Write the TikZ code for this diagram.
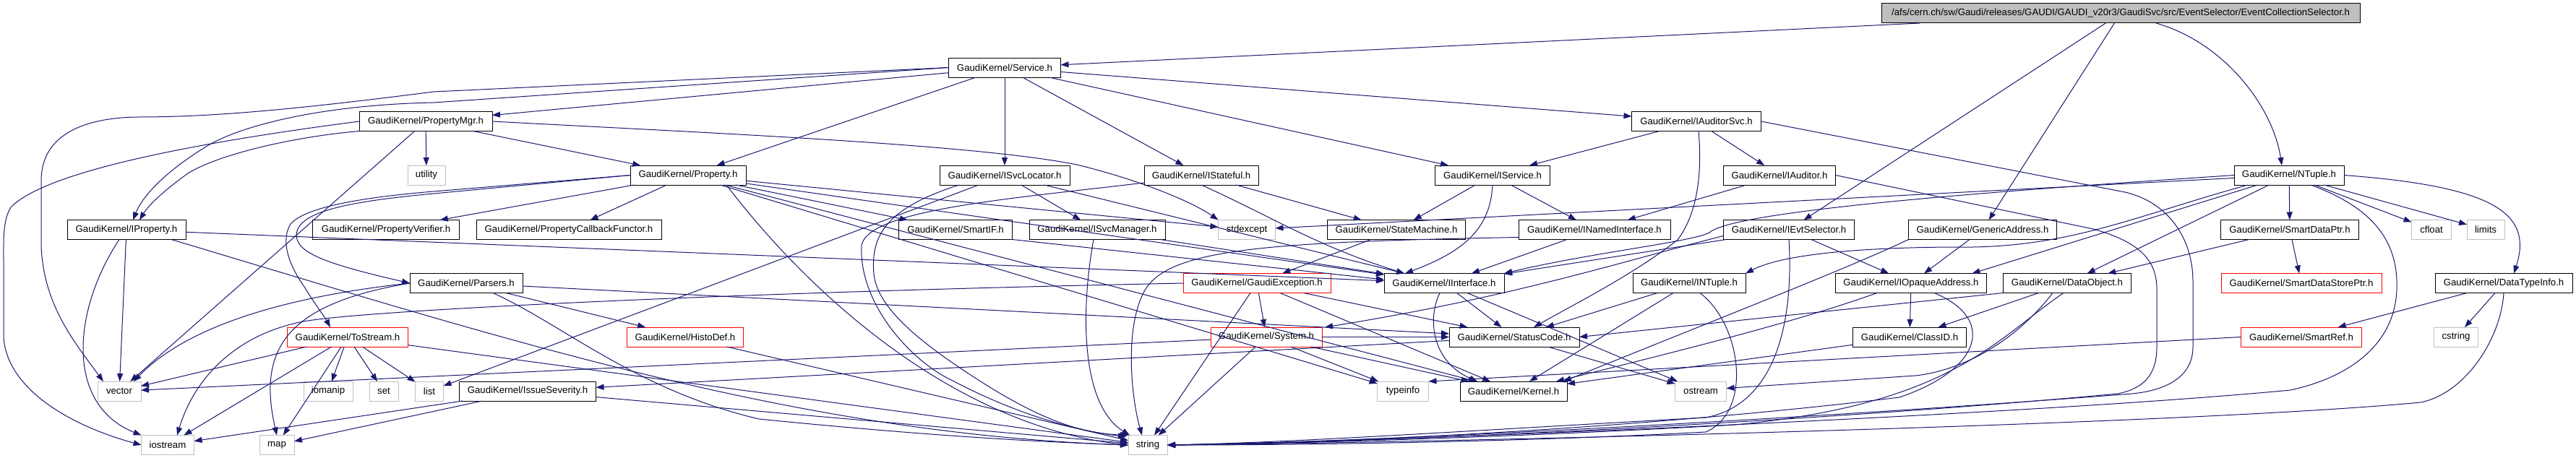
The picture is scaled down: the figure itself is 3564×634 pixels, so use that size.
\documentclass[tikz,border=0pt]{standalone}
\usepackage{fontspec}
\setmainfont{Liberation Sans}
\usetikzlibrary{arrows.meta,calc}
\definecolor{edgecol}{HTML}{191970}
\definecolor{sysgrey}{HTML}{BFBFBF}
\tikzset{
  hdr/.style={rectangle, draw=black, line width=1pt, minimum height=27pt, inner sep=0pt, outer sep=0pt, font=\fontsize{13.2}{15}\selectfont, text=black},
  syshdr/.style={hdr, draw=sysgrey},
  trunc/.style={hdr, draw=red},
  rootbox/.style={hdr, fill=sysgrey},
  dep/.style={draw=edgecol, line width=1pt, -{Triangle[length=11pt,width=8pt]}},
}
\begin{document}
\begin{tikzpicture}[x=1pt,y=-1pt]
\useasboundingbox (0,0) rectangle (3564,634);
\fill[white] (0,0) rectangle (3564,634);
% row 0
\node[rootbox, minimum width=662pt] (root) at (2934,18.5) {/afs/cern.ch/sw/Gaudi/releases/GAUDI/GAUDI\_v20r3/GaudiSvc/src/EventSelector/EventCollectionSelector.h};
% row 1
\node[hdr, minimum width=155pt] (service) at (1390,93.5) {GaudiKernel/Service.h};
% row 2
\node[hdr, minimum width=184pt] (propmgr) at (589,168) {GaudiKernel/PropertyMgr.h};
\node[hdr, minimum width=179pt] (iauditorsvc) at (2347,168) {GaudiKernel/IAuditorSvc.h};
% row 3
\node[syshdr, minimum width=52pt] (utility) at (590,242.5) {utility};
\node[hdr, minimum width=160pt] (property) at (952,242.5) {GaudiKernel/Property.h};
\node[hdr, minimum width=180pt] (isvclocator) at (1390,242.5) {GaudiKernel/ISvcLocator.h};
\node[hdr, minimum width=158pt] (istateful) at (1662,242.5) {GaudiKernel/IStateful.h};
\node[hdr, minimum width=159pt] (iservice) at (2065,242.5) {GaudiKernel/IService.h};
\node[hdr, minimum width=155pt] (iauditor) at (2462,242.5) {GaudiKernel/IAuditor.h};
\node[hdr, minimum width=152pt] (ntuple) at (3167,242.5) {GaudiKernel/NTuple.h};
% row 4
\node[hdr, minimum width=164pt] (iproperty) at (175,318) {GaudiKernel/IProperty.h};
\node[hdr, minimum width=203pt] (propverifier) at (534,318) {GaudiKernel/PropertyVerifier.h};
\node[hdr, minimum width=256pt] (propcallback) at (787,318) {GaudiKernel/PropertyCallbackFunctor.h};
\node[hdr, minimum width=157pt] (smartif) at (1322,318) {GaudiKernel/SmartIF.h};
\node[hdr, minimum width=188pt] (isvcmanager) at (1518,318) {GaudiKernel/ISvcManager.h};
\node[syshdr, minimum width=79pt] (stdexcept) at (1725,318) {stdexcept};
\node[hdr, minimum width=191pt] (statemachine) at (1932,318) {GaudiKernel/StateMachine.h};
\node[hdr, minimum width=210pt] (inamedif) at (2206,318) {GaudiKernel/INamedInterface.h};
\node[hdr, minimum width=181pt] (ievtsel) at (2475,318) {GaudiKernel/IEvtSelector.h};
\node[hdr, minimum width=205pt] (genaddr) at (2743,318) {GaudiKernel/GenericAddress.h};
\node[hdr, minimum width=191pt] (smartdataptr) at (3168,318) {GaudiKernel/SmartDataPtr.h};
\node[syshdr, minimum width=55pt] (cfloat) at (3364,318) {cfloat};
\node[syshdr, minimum width=52pt] (limits) at (3439,318) {limits};
% row 5
\node[hdr, minimum width=156pt] (parsers) at (645,392) {GaudiKernel/Parsers.h};
\node[trunc, minimum width=204pt] (gaudiexc) at (1739,392) {GaudiKernel/GaudiException.h};
\node[hdr, minimum width=166pt] (iinterface) at (1998,392) {GaudiKernel/IInterface.h};
\node[hdr, minimum width=156pt] (intuple) at (2337,392) {GaudiKernel/INTuple.h};
\node[hdr, minimum width=209pt] (iopaque) at (2644,392) {GaudiKernel/IOpaqueAddress.h};
\node[hdr, minimum width=177pt] (dataobject) at (2860,392) {GaudiKernel/DataObject.h};
\node[trunc, minimum width=222pt] (smartdatastoreptr) at (3184,392) {GaudiKernel/SmartDataStorePtr.h};
\node[hdr, minimum width=190pt] (datatypeinfo) at (3464,392) {GaudiKernel/DataTypeInfo.h};
% row 6
\node[trunc, minimum width=167pt] (tostream) at (481,466.5) {GaudiKernel/ToStream.h};
\node[trunc, minimum width=161pt] (histodef) at (948,466.5) {GaudiKernel/HistoDef.h};
\node[trunc, minimum width=154pt] (system) at (1752,466.5) {GaudiKernel/System.h};
\node[hdr, minimum width=180pt] (statuscode) at (2095,466.5) {GaudiKernel/StatusCode.h};
\node[hdr, minimum width=157pt] (classid) at (2642,466.5) {GaudiKernel/ClassID.h};
\node[trunc, minimum width=167pt] (smartref) at (3184,466.5) {GaudiKernel/SmartRef.h};
\node[syshdr, minimum width=61pt] (cstring) at (3398,466.5) {cstring};
% row 7
\node[syshdr, minimum width=60pt] (vector) at (165,541.5) {vector};
\node[syshdr, minimum width=68pt] (iomanip) at (454,541.5) {iomanip};
\node[syshdr, minimum width=40pt] (set) at (531,541.5) {set};
\node[syshdr, minimum width=39pt] (list) at (594,541.5) {list};
\node[hdr, minimum width=189pt] (issuesev) at (730,541.5) {GaudiKernel/IssueSeverity.h};
\node[syshdr, minimum width=71pt] (typeinfo) at (1941,541.5) {typeinfo};
\node[hdr, minimum width=148pt] (kernel) at (2094,541.5) {GaudiKernel/Kernel.h};
\node[syshdr, minimum width=71pt] (ostream) at (2353,541.5) {ostream};
% row 8
\node[syshdr, minimum width=73pt] (iostream) at (232,616) {iostream};
\node[syshdr, minimum width=48pt] (map) at (383,616) {map};
\node[syshdr, minimum width=54pt] (string) at (1588,616) {string};

% ---- root
\draw[dep] (root) -- (service);
\draw[dep] (root) -- (ievtsel);
\draw[dep] (root) -- (genaddr);
\draw[dep] ($(root.south)+(49,0)$) .. controls (3080,60) and (3145,150) .. ($(ntuple.north)+(-10,0)$);
% ---- Service
\draw[dep] (service) -- (propmgr);
\draw[dep] (service.west) -- (600,127) .. controls (420,150) and (300,162) .. (191,162) .. controls (110,163) and (57,190) .. (57,250) -- (57,340) .. controls (60,420) and (100,470) .. ($(vector.north)+(-22,0)$);
\draw[dep] (service.west) -- (600,142) .. controls (450,145) and (340,172) .. (290,200) .. controls (240,230) and (200,265) .. ($(iproperty.north)+(9,0)$);
\draw[dep] (service) -- (property);
\draw[dep] (service) -- (isvclocator);
\draw[dep] (service) -- (istateful);
\draw[dep] (service) -- (iservice);
\draw[dep] (service) -- (iauditorsvc);
% ---- PropertyMgr
\draw[dep] (propmgr.south west) .. controls (400,190) and (300,215) .. (260,240) .. controls (225,265) and (205,285) .. ($(iproperty.north)+(18,0)$);
\draw[dep] (propmgr.west) .. controls (250,200) and (60,240) .. (15,287) .. controls (4,305) and (5,330) .. (5,360) -- (5,467) .. controls (10,540) and (100,590) .. (iostream.west);
\draw[dep] (propmgr) -- (vector);
\draw[dep] (propmgr) -- (utility);
\draw[dep] (propmgr) -- (property);
\draw[dep] (propmgr.east) .. controls (1000,185) and (1350,200) .. (1490,228) .. controls (1580,250) and (1650,280) .. (stdexcept.north west);
% ---- Property
\draw[dep] (property) -- (propverifier);
\draw[dep] (property) -- (propcallback);
\draw[dep] (property.west) -- (600,265) .. controls (480,275) and (420,290) .. (402,310) .. controls (390,330) and (395,360) .. (421,397) .. controls (435,420) and (450,440) .. ($(tostream.north)+(-24,0)$);
\draw[dep] (property.west) -- (600,268) .. controls (470,280) and (412,295) .. (410,325) .. controls (410,350) and (450,365) .. (parsers.west);
\draw[dep] (property) -- (smartif);
\draw[dep] (property) -- (iinterface);
\draw[dep] (property) -- (stdexcept);
\draw[dep] ($(property.south)+(53,0)$) .. controls (1130,420) and (1330,590) .. (string.west);
\draw[dep] (property) -- (kernel);
\draw[dep] (property) -- (typeinfo);
% ---- IProperty
\draw[dep] (iproperty) -- (iinterface);
\draw[dep] ($(iproperty.south east)+(-20,0)$) .. controls (700,470) and (1100,600) .. (string.west);
\draw[dep] (iproperty) -- (vector);
\draw[dep] ($(iproperty.south)+(-10,0)$) .. controls (100,430) and (90,560) .. (iostream.north west);
% ---- Parsers
\draw[dep] (parsers.west) .. controls (400,410) and (260,450) .. ($(vector.north)+(20,0)$);
\draw[dep] (parsers.west) .. controls (400,420) and (355,480) .. (map.north);
\draw[dep] (parsers) -- (histodef);
\draw[dep] (parsers) -- (statuscode);
\draw[dep] ($(parsers.south)+(37,0)$) .. controls (780,450) and (880,540) .. (1050,580) .. controls (1300,605) and (1450,612) .. (string.west);
% ---- ToStream
\draw[dep] (tostream) -- (vector);
\draw[dep] (tostream) -- (iostream);
\draw[dep] (tostream) -- (map);
\draw[dep] (tostream) -- (iomanip);
\draw[dep] (tostream) -- (set);
\draw[dep] (tostream) -- (list);
\draw[dep] (tostream) -- (string);
% ---- HistoDef, IssueSeverity
\draw[dep] (histodef) -- (string);
\draw[dep] (issuesev) -- (iostream);
\draw[dep] (issuesev) -- (map);
\draw[dep] (issuesev) -- (string);
% ---- StatusCode
\draw[dep] (statuscode) -- (issuesev);
\draw[dep] (statuscode) -- (ostream);
% ---- System
\draw[dep] (system) -- (vector);
\draw[dep] (system) -- (typeinfo);
\draw[dep] (system) -- (string);
\draw[dep] (system) -- (kernel);
\draw[dep] (system) -- (statuscode);
% ---- GaudiException
\draw[dep] (gaudiexc) -- (system);
\draw[dep] (gaudiexc) -- (statuscode);
\draw[dep] (gaudiexc) -- (string);
\draw[dep] (gaudiexc) -- (kernel);
\draw[dep] (gaudiexc.west) .. controls (1000,405) and (500,430) .. (420,445) .. controls (330,462) and (270,520) .. ($(iostream.north)+(13,0)$);
% ---- IInterface
\draw[dep] ($(iinterface.south)+(-6,0)$) .. controls (1975,440) and (1980,500) .. ($(kernel.north)+(-50,0)$);
\draw[dep] (iinterface) -- (statuscode);
\draw[dep] (iinterface) -- (ostream);
% ---- ISvcLocator
\draw[dep] (isvclocator) -- (list);
\draw[dep] ($(isvclocator.south)+(-63,0)$) .. controls (1220,290) and (1205,330) .. (1209,380) .. controls (1215,430) and (1280,480) .. (1371,537) .. controls (1450,585) and (1500,600) .. (string.north west);
\draw[dep] (isvclocator) -- (isvcmanager);
\draw[dep] (isvclocator) -- (iinterface);
% ---- IStateful
\draw[dep] (istateful) -- (statemachine);
\draw[dep] (istateful.south) .. controls (1760,300) and (1820,340) .. ($(iinterface.north)+(-55,0)$);
\draw[dep] ($(istateful.south west)+(0,-3)$) .. controls (1400,275) and (1200,290) .. (1192,340) .. controls (1188,420) and (1260,500) .. (1318,527) .. controls (1400,570) and (1480,595) .. ($(string.north west)+(-3,2)$);
% ---- ISvcManager, SmartIF, StateMachine
\draw[dep] (isvcmanager) -- (iinterface);
\draw[dep] ($(isvcmanager.south)+(-5,0)$) .. controls (1495,430) and (1495,560) .. ($(string.north west)+(2,0)$);
\draw[dep] (smartif.south east) -- ($(iinterface.west)+(0,-5)$);
\draw[dep] (statemachine) -- (gaudiexc);
% ---- IService
\draw[dep] (iservice) -- (statemachine);
\draw[dep] (iservice) -- (inamedif);
\draw[dep] (iservice.south) .. controls (2062,320) and (2020,350) .. ($(iinterface.north)+(-54,0)$);
% ---- INamedInterface
\draw[dep] (inamedif) -- (iinterface);
\draw[dep] ($(inamedif.south west)+(0,-3)$) .. controls (1750,335) and (1620,345) .. (1585,400) .. controls (1555,450) and (1565,550) .. ($(string.north)+(-8,0)$);
% ---- IAuditorSvc
\draw[dep] (iauditorsvc) -- (iservice);
\draw[dep] (iauditorsvc) -- (iauditor);
\draw[dep] ($(iauditorsvc.south)+(3,0)$) .. controls (2356,250) and (2345,300) .. (2321,332) .. controls (2260,380) and (2180,420) .. ($(statuscode.north)+(27,0)$);
\draw[dep] (iauditorsvc.east) -- (2940,266) .. controls (3000,280) and (3034,330) .. (3034,390) -- (3034,480) .. controls (3034,520) and (3000,540) .. (2950,545) .. controls (2500,580) and (1900,612) .. (string.east);
% ---- IAuditor
\draw[dep] (iauditor) -- (inamedif);
\draw[dep] (iauditor.east) -- (2896,317) .. controls (2960,335) and (2984,360) .. (2984,400) -- (2984,480) .. controls (2984,520) and (2965,538) .. (2930,545) .. controls (2500,585) and (1900,613) .. (string.east);
% ---- IEvtSelector
\draw[dep] (ievtsel) -- (iinterface);
\draw[dep] ($(ievtsel.south west)+(0,-5)$) .. controls (2250,360) and (2100,410) .. ($(system.north east)+(4,0)$);
\draw[dep] (ievtsel) -- (iopaque);
\draw[dep] (ievtsel.south) .. controls (2482,450) and (2455,560) .. (2360,578) .. controls (2000,598) and (1800,612) .. (string.east);
% ---- GenericAddress
\draw[dep] (genaddr) -- (iopaque);
\draw[dep] (genaddr.south west) .. controls (2560,370) and (2380,440) .. ($(kernel.north east)+(-5,0)$);
% ---- INTuple
\draw[dep] (intuple) -- (statuscode);
\draw[dep] (intuple) -- (kernel);
\draw[dep] ($(intuple.south)+(15,0)$) .. controls (2410,450) and (2425,570) .. (2360,598) .. controls (2100,612) and (1800,616) .. (string.east);
% ---- IOpaqueAddress
\draw[dep] (iopaque) -- (classid);
\draw[dep] ($(iopaque.south)+(-47,0)$) .. controls (2500,440) and (2380,472) .. ($(kernel.north east)+(-15,0)$);
\draw[dep] ($(iopaque.south)+(32,0)$) .. controls (2760,440) and (2745,510) .. (2628,550) .. controls (2300,590) and (1900,612) .. (string.east);
% ---- DataObject
\draw[dep] (dataobject) -- (classid);
\draw[dep] (dataobject.south west) -- (statuscode.east);
\draw[dep] ($(dataobject.south)+(-5,0)$) .. controls (2760,470) and (2700,560) .. (2400,588) .. controls (2100,605) and (1800,614) .. (string.east);
\draw[dep] ($(dataobject.south)+(-20,0)$) .. controls (2790,470) and (2720,512) .. (2650,520) -- ($(ostream.east)+(0,-4)$);
% ---- ClassID, SmartRef, SmartDataPtr, DataTypeInfo
\draw[dep] (classid) -- (kernel);
\draw[dep] (smartref.west) -- (typeinfo.north east);
\draw[dep] (smartdataptr) -- (smartdatastoreptr);
\draw[dep] (smartdataptr) -- (dataobject);
\draw[dep] (datatypeinfo) -- (smartref);
\draw[dep] (datatypeinfo) -- (cstring);
\draw[dep] (datatypeinfo.south) .. controls (3460,470) and (3410,545) .. (3349,557) .. controls (3000,590) and (1900,614) .. (string.east);
% ---- NTuple
\draw[dep] (ntuple) -- (stdexcept);
\draw[dep] (ntuple.west) .. controls (2800,262) and (2400,290) .. (2365,322) .. controls (2340,335) and (2200,350) .. (iinterface.north east);
\draw[dep] (ntuple) -- (smartdataptr);
\draw[dep] (ntuple) -- (cfloat);
\draw[dep] (ntuple) -- (limits);
\draw[dep] (ntuple.east) .. controls (3450,258) and (3505,295) .. ($(datatypeinfo.north)+(14,0)$);
\draw[dep] ($(ntuple.south)+(-57,0)$) .. controls (2950,300) and (2860,345) .. (2700,342) .. controls (2550,343) and (2460,355) .. (intuple.north east);
\draw[dep] (ntuple) -- ($(iopaque.north east)+(-20,0)$);
\draw[dep] (ntuple) -- (dataobject);
\draw[dep] ($(ntuple.south)+(30,0)$) .. controls (3290,290) and (3318,340) .. (3316,400) .. controls (3314,470) and (3260,520) .. (3169,540) .. controls (2800,575) and (1900,612) .. (string.east);
\end{tikzpicture}
\end{document}
